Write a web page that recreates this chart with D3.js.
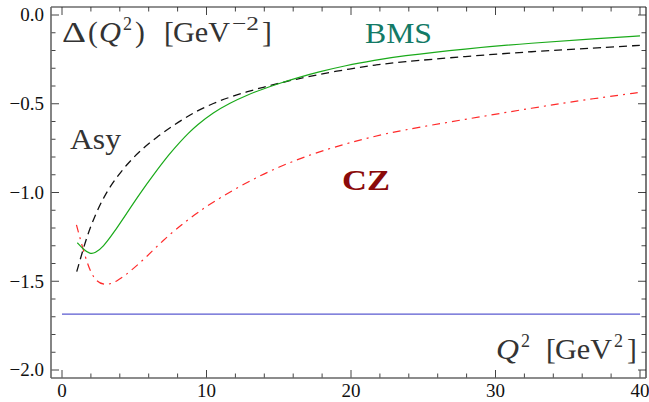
<!DOCTYPE html>
<html>
<head>
<meta charset="utf-8">
<script src="https://cdn.jsdelivr.net/npm/d3@7"></script>
<style>
  html, body { margin: 0; padding: 0; background: #fff; }
  svg { display: block; }
  text { font-family: "Liberation Serif", "DejaVu Serif", serif; }
</style>
</head>
<body>
<svg id="chart" width="649" height="402"></svg>
<script>
// ---- data ----
const asyQ = [1.02, 1.71, 2.28, 2.86, 3.55, 4.48, 5.40, 6.55, 7.70, 8.74, 9.32, 10.47, 11.63, 12.78, 13.93, 15.09, 16.24, 17.63, 20.0, 21.7, 23.3, 27.9, 32.5, 37.0, 40.0];
const asyD = [-1.446, -1.249, -1.13, -1.03, -0.939, -0.842, -0.765, -0.688, -0.622, -0.569, -0.542, -0.497, -0.462, -0.433, -0.407, -0.383, -0.361, -0.337, -0.302, -0.281, -0.266, -0.233, -0.206, -0.185, -0.171];

const bmsQ = [1.06, 1.5, 1.94, 2.28, 2.86, 3.55, 4.48, 5.40, 6.32, 7.47, 8.17, 8.74, 9.32, 10.47, 11.63, 12.78, 13.93, 15.09, 16.24, 17.74, 19.6, 21.7, 23.3, 27.9, 32.5, 37.0, 40.0];
const bmsD = [-1.283, -1.322, -1.346, -1.343, -1.305, -1.23, -1.117, -1.005, -0.901, -0.779, -0.715, -0.666, -0.621, -0.549, -0.495, -0.452, -0.416, -0.384, -0.355, -0.321, -0.285, -0.254, -0.233, -0.19, -0.158, -0.133, -0.118];

const czQ = [1.0, 1.59, 2.17, 2.98, 3.79, 4.71, 5.86, 7.01, 8.17, 8.86, 9.7, 10.3, 12.7, 15.0, 17.3, 19.6, 21.4, 23.3, 27.9, 32.5, 37.0, 40.0];
const czD = [-1.182, -1.362, -1.493, -1.527, -1.502, -1.446, -1.362, -1.268, -1.188, -1.145, -1.095, -1.062, -0.945, -0.855, -0.783, -0.726, -0.688, -0.652, -0.588, -0.524, -0.468, -0.436];

const flatQ = [0, 40];
const flatD = [-1.685, -1.685];

const xMajorTicks = [0, 10, 20, 30, 40];
const yMajorTicks = [0.0, -0.5, -1.0, -1.5, -2.0];

// ---- layout ----
const svg = d3.select("#chart");
const frame = { left: 51, right: 646, top: 7, bottom: 378 };
const x = d3.scaleLinear().domain([0, 40]).range([62, 640]);
const y = d3.scaleLinear().domain([0, -2]).range([15, 370]);

svg.append("rect").attr("width", 649).attr("height", 402).attr("fill", "#fff");

// ---- curves ----
const line = d3.line().x(d => x(d[0])).y(d => y(d[1])).curve(d3.curveBasis);
const zip = (a, b) => a.map((v, i) => [v, b[i]]);

svg.append("path").attr("d", line(zip(flatQ, flatD)))
  .attr("fill", "none").attr("stroke", "#5a5ad0").attr("stroke-width", 1.2);
svg.append("path").attr("d", line(zip(czQ, czD)))
  .attr("fill", "none").attr("stroke", "#ff2a2a").attr("stroke-width", 1.2)
  .attr("stroke-dasharray", "8,5,2,5");
svg.append("path").attr("d", line(zip(asyQ, asyD)))
  .attr("fill", "none").attr("stroke", "#111").attr("stroke-width", 1.3)
  .attr("stroke-dasharray", "8,5");
svg.append("path").attr("d", line(zip(bmsQ, bmsD)))
  .attr("fill", "none").attr("stroke", "#1aaa1a").attr("stroke-width", 1.2);

// ---- frame & ticks ----
const g = svg.append("g");
const xMinor = d3.range(0, 40.001, 2);
const yMinor = d3.range(0, 21).map(i => -i / 10);
const isMajX = v => xMajorTicks.some(t => Math.abs(t - v) < 1e-6);
const isMajY = v => yMajorTicks.some(t => Math.abs(t - v) < 1e-6);

xMinor.forEach(v => {
  const L = isMajX(v) ? 8 : 4.5;
  g.append("line").attr("x1", x(v)).attr("x2", x(v)).attr("y1", frame.bottom).attr("y2", frame.bottom - L)
    .attr("stroke", "#444").attr("stroke-width", 1);
  g.append("line").attr("x1", x(v)).attr("x2", x(v)).attr("y1", frame.top).attr("y2", frame.top + L)
    .attr("stroke", "#444").attr("stroke-width", 1);
});
yMinor.forEach(v => {
  const L = isMajY(v) ? 8 : 4.5;
  g.append("line").attr("y1", y(v)).attr("y2", y(v)).attr("x1", frame.left).attr("x2", frame.left + L)
    .attr("stroke", "#444").attr("stroke-width", 1);
  g.append("line").attr("y1", y(v)).attr("y2", y(v)).attr("x1", frame.right).attr("x2", frame.right - L)
    .attr("stroke", "#444").attr("stroke-width", 1);
});
g.append("line").attr("x1", frame.left).attr("x2", frame.right).attr("y1", frame.top).attr("y2", frame.top).attr("stroke", "#222").attr("stroke-width", 1.2);
g.append("line").attr("x1", frame.right).attr("x2", frame.right).attr("y1", frame.top).attr("y2", frame.bottom).attr("stroke", "#222").attr("stroke-width", 1.2);
g.append("line").attr("x1", frame.left).attr("x2", frame.right).attr("y1", frame.bottom).attr("y2", frame.bottom).attr("stroke", "#666").attr("stroke-width", 1.6);
g.append("line").attr("x1", frame.left).attr("x2", frame.left).attr("y1", frame.top).attr("y2", frame.bottom).attr("stroke", "#666").attr("stroke-width", 1.6);

// tick labels
const fmtY = v => (v === 0 ? "0.0" : "\u2212" + d3.format(".1f")(-v));
yMajorTicks.forEach(v => {
  svg.append("text").attr("x", frame.left - 7).attr("y", y(v)).attr("dy", "0.33em")
    .attr("text-anchor", "end").attr("font-size", 19).attr("fill", "#111").text(fmtY(v));
});
xMajorTicks.forEach(v => {
  svg.append("text").attr("x", x(v)).attr("y", 397)
    .attr("text-anchor", "middle").attr("font-size", 19).attr("fill", "#111").text(d3.format("d")(v));
});

// ---- annotations ----
const fs = 29.5;
const sup = 19.5;
function piece(parent, px, py, txt, opts = {}) {
  const t = parent.append("tspan").attr("x", px).attr("y", py).text(txt);
  if (opts.size) t.attr("font-size", opts.size);
  if (opts.italic) t.attr("font-style", "italic");
  if (opts.len) t.attr("textLength", opts.len).attr("lengthAdjust", "spacingAndGlyphs");
  return t;
}
const t1 = svg.append("text").attr("font-size", fs).attr("fill", "#333");
piece(t1, 62, 42, "\u0394", { len: 24 });
piece(t1, 88, 42, "(");
piece(t1, 99, 42, "Q", { italic: true, len: 22 });
piece(t1, 123, 30, "2", { size: sup, len: 9 });
piece(t1, 135, 42, ")");
piece(t1, 164, 42, "[");
piece(t1, 173, 42, "GeV", { len: 57 });
piece(t1, 232, 30, "\u22122", { size: sup, len: 27 });
piece(t1, 262, 42, "]");

svg.append("text").attr("x", 365).attr("y", 43).attr("font-size", fs).attr("fill", "#137a66")
  .attr("textLength", 67).attr("lengthAdjust", "spacingAndGlyphs").text("BMS");
svg.append("text").attr("x", 70).attr("y", 149).attr("font-size", fs).attr("fill", "#333")
  .attr("textLength", 51).attr("lengthAdjust", "spacingAndGlyphs").text("Asy");
svg.append("text").attr("x", 342).attr("y", 190).attr("font-size", fs).attr("font-weight", "bold").attr("fill", "#8b0a0a")
  .attr("textLength", 48).attr("lengthAdjust", "spacingAndGlyphs").text("CZ");

const t2 = svg.append("text").attr("font-size", fs).attr("fill", "#333");
piece(t2, 496, 359, "Q", { italic: true, len: 23 });
piece(t2, 521, 347, "2", { size: sup, len: 9 });
piece(t2, 546, 359, "[");
piece(t2, 555, 359, "GeV", { len: 57 });
piece(t2, 614, 347, "2", { size: sup, len: 9 });
piece(t2, 627, 359, "]");
</script>
</body>
</html>
